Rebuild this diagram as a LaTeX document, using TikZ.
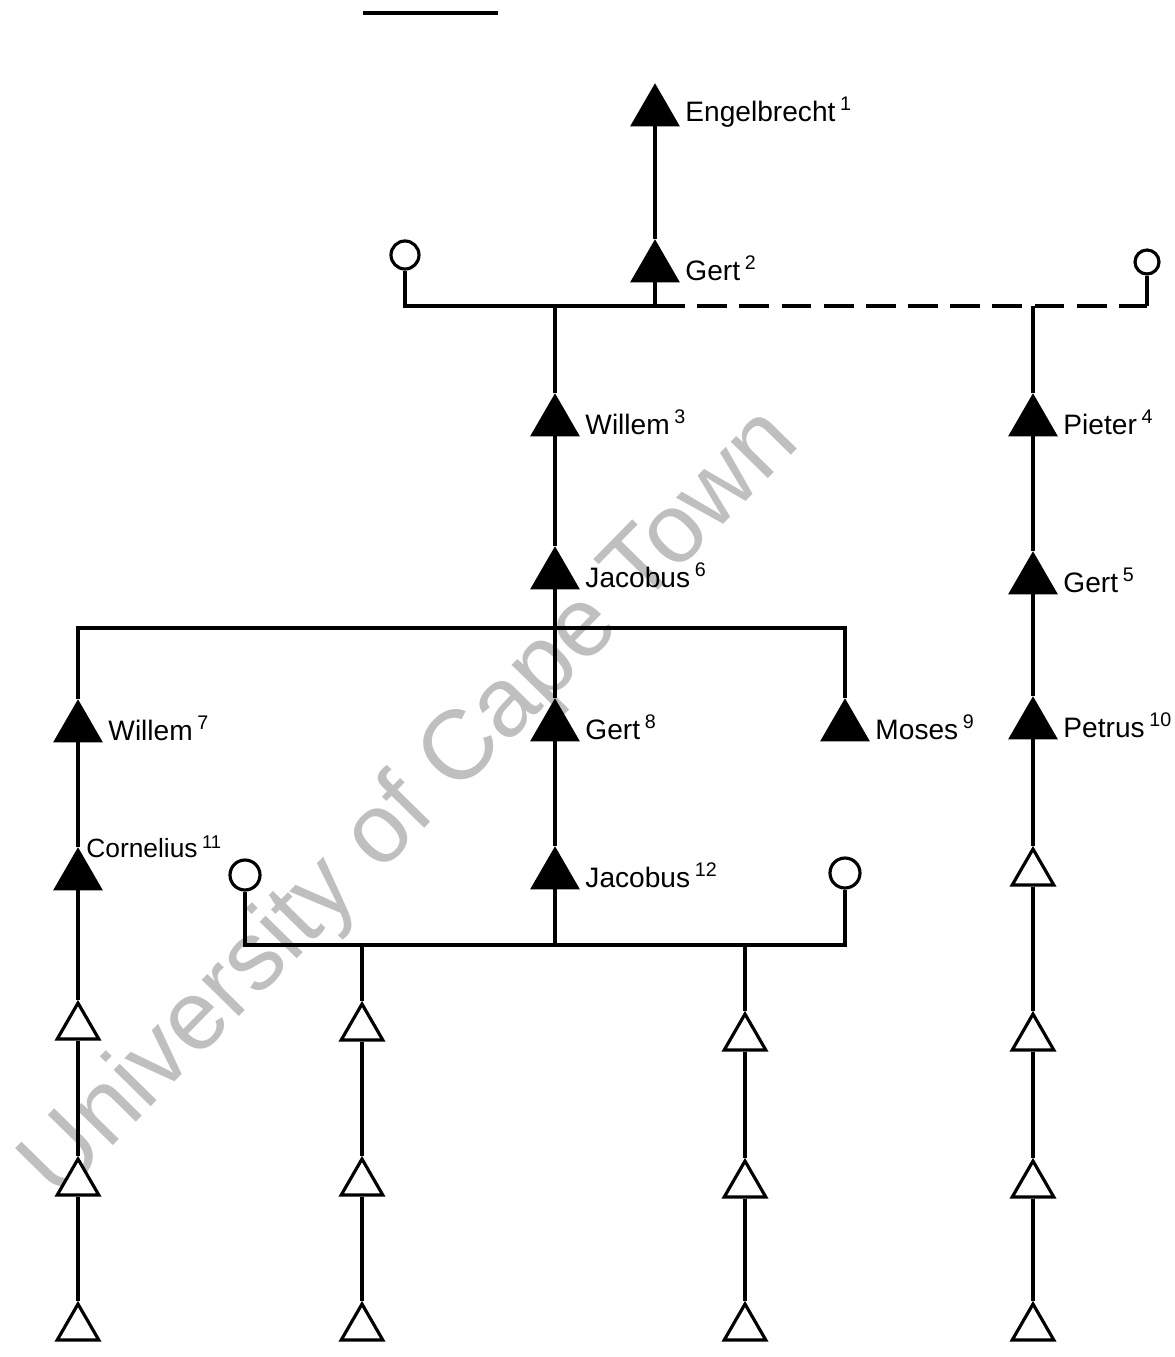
\documentclass[tikz,border=0pt]{standalone}
\usepackage{fontspec}
\setmainfont{Liberation Sans}
\usepackage{tikz}
\usetikzlibrary{shapes.geometric}
\newcommand{\drawMale}[4]{
\node [male,label={right:#4}] (#1) at (#2,#3) {};
}
\newcommand{\drawSon}[3]{
\node [son] (#1) at (#2,#3) {};
}
\newcommand{\drawFemale}[4]{
\node [female,minimum size=#4] (#1) at (#2,#3) {};
}

\begin{document}
\begin{tikzpicture}[x=0.02cm,y=-0.02cm,
  male/.style={regular polygon,regular polygon sides=3,draw,fill=black,line width=1pt,minimum size=1.08cm,inner sep=0pt},
  son/.style={regular polygon,regular polygon sides=3,draw,fill=white,line width=1.8pt,minimum size=0.96cm,inner sep=0pt},
  female/.style={circle,draw,fill=white,line width=1.8pt,inner sep=0pt},
  kin/.style={line width=1.8pt},
  every label/.style={font=\fontsize{16}{19}\selectfont,inner sep=2pt},
  label distance=0.2cm]
\useasboundingbox (0,0) rectangle (1175,1357);
\node [rotate=45.5,text=black!25,inner sep=0pt,font=\fontsize{56}{60}\selectfont] (stamp) at (412,805) {University of Cape Town};
\draw [line width=2.3pt] (363,13) -- (498,13);
%
\drawMale{engel}{655}{112}{Engelbrecht\,\textsuperscript{1}};
\drawMale{gertA}{655}{268}{Gert\,\textsuperscript{2}};
\drawFemale{wifeA}{405}{255}{0.56cm};
\drawFemale{wifeB}{1147}{262}{0.48cm};
\drawMale{willemA}{555}{422}{Willem\,\textsuperscript{3}};
\drawMale{pieter}{1033}{422}{Pieter\,\textsuperscript{4}};
\drawMale{gertB}{1033}{580}{Gert\,\textsuperscript{5}};
\drawMale{jacobusA}{555}{575}{Jacobus\,\textsuperscript{6}};
\drawMale{willemB}{78}{728}{Willem\,\textsuperscript{7}};
\drawMale{gertC}{555}{727}{Gert\,\textsuperscript{8}};
\drawMale{moses}{845}{727}{Moses\,\textsuperscript{9}};
\drawMale{petrus}{1033}{725}{Petrus\,\textsuperscript{10}};
\drawMale{cornelius}{78}{876}{};
\node [anchor=south west,inner sep=0pt,font=\fontsize{15}{18}\selectfont] (cornText) at (86,858) {Cornelius\,\textsuperscript{11}};
\drawMale{jacobusB}{555}{875}{Jacobus\,\textsuperscript{12}};
\drawFemale{wifeC}{245}{875}{0.6cm};
\drawFemale{wifeD}{845}{873}{0.6cm};
%
\drawSon{sonAa}{78}{1027};
\drawSon{sonAb}{78}{1183};
\drawSon{sonAc}{78}{1328};
\drawSon{sonBa}{362}{1028};
\drawSon{sonBb}{362}{1183};
\drawSon{sonBc}{362}{1328};
\drawSon{sonCa}{745}{1038};
\drawSon{sonCb}{745}{1185};
\drawSon{sonCc}{745}{1328};
\drawSon{sonDa}{1033}{873};
\drawSon{sonDb}{1033}{1038};
\drawSon{sonDc}{1033}{1185};
\drawSon{sonDd}{1033}{1328};
%
\coordinate (famA) at (655,306);
\coordinate (sibA) at (555,628);
\coordinate (famB) at (555,945);
\draw [kin] (engel.south) -- (gertA.north);
\draw [kin] (wifeA.south) |- (famA) -- (gertA.south);
\draw [kin,dash pattern=on 17pt off 7pt] (famA) -- (famA -| wifeB);
\draw [kin] (famA -| wifeB) -- (wifeB.south);
\draw [kin] (willemA.north) -- (willemA.north |- famA);
\draw [kin] (pieter.north) -- (pieter.north |- famA);
\draw [kin] (willemA.south) -- (jacobusA.north);
\draw [kin] (pieter.south) -- (gertB.north);
\draw [kin] (gertB.south) -- (petrus.north);
\draw [kin] (jacobusA.south) -- (gertC.north);
\draw [kin] (willemB.north) |- (sibA) -| (moses.north);
\draw [kin] (willemB.south) -- (cornelius.north);
\draw [kin] (gertC.south) -- (jacobusB.north);
\draw [kin] (wifeC.south) |- (famB) -| (wifeD.south);
\draw [kin] (jacobusB.south) -- (famB);
%
\draw [kin] (cornelius.south) -- (sonAa.north);
\draw [kin] (sonAa.south) -- (sonAb.north);
\draw [kin] (sonAb.south) -- (sonAc.north);
\draw [kin] (sonBa.north) -- (sonBa.north |- famB);
\draw [kin] (sonBa.south) -- (sonBb.north);
\draw [kin] (sonBb.south) -- (sonBc.north);
\draw [kin] (sonCa.north) -- (sonCa.north |- famB);
\draw [kin] (sonCa.south) -- (sonCb.north);
\draw [kin] (sonCb.south) -- (sonCc.north);
\draw [kin] (petrus.south) -- (sonDa.north);
\draw [kin] (sonDa.south) -- (sonDb.north);
\draw [kin] (sonDb.south) -- (sonDc.north);
\draw [kin] (sonDc.south) -- (sonDd.north);
\end{tikzpicture}
\end{document}
